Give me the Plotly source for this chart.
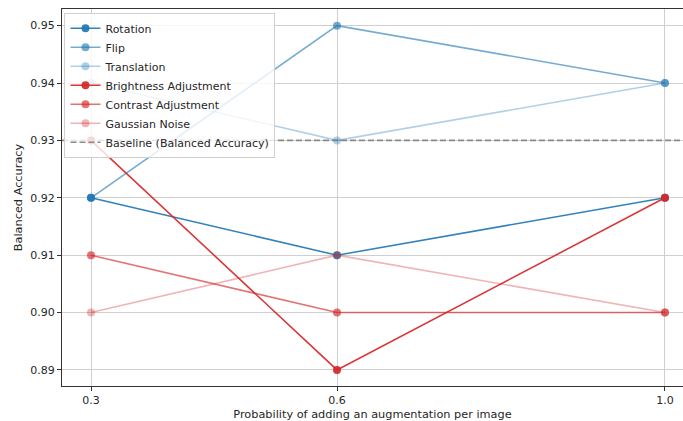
import plotly.graph_objects as go

# Augmentation probability (x) and balanced accuracy per augmentation type
probabilities = [0.3, 0.6, 1.0]
rotation = [0.92, 0.91, 0.92]
flip = [0.92, 0.95, 0.94]
translation = [0.94, 0.93, 0.94]
brightness = [0.93, 0.89, 0.92]
contrast = [0.91, 0.90, 0.90]
gaussian_noise = [0.90, 0.91, 0.90]
baseline = 0.93

x_ticks = [0.3, 0.6, 1.0]
x_tick_text = ["0.3", "0.6", "1.0"]
y_ticks = [0.89, 0.90, 0.91, 0.92, 0.93, 0.94, 0.95]
y_tick_text = ["0.89", "0.90", "0.91", "0.92", "0.93", "0.94", "0.95"]

x_range = [0.2646, 1.022]
y_range = [0.8872, 0.9529]

series = [
    ("Rotation", rotation, "rgba(31,119,180,0.92)"),
    ("Flip", flip, "rgba(31,119,180,0.62)"),
    ("Translation", translation, "rgba(31,119,180,0.35)"),
    ("Brightness Adjustment", brightness, "rgba(214,39,40,0.92)"),
    ("Contrast Adjustment", contrast, "rgba(214,39,40,0.65)"),
    ("Gaussian Noise", gaussian_noise, "rgba(214,39,40,0.35)"),
]

fig = go.Figure()
for name, values, color in series:
    fig.add_trace(go.Scatter(
        x=probabilities, y=values, name=name, mode="lines+markers",
        line=dict(color=color, width=1.6),
        marker=dict(color=color, size=8),
    ))

# Baseline drawn across the full x extent
fig.add_trace(go.Scatter(
    x=x_range, y=[baseline, baseline], name="Baseline (Balanced Accuracy)",
    mode="lines", line=dict(color="rgba(128,128,128,0.9)", width=1.6, dash="6px,3px"),
))

font_family = "DejaVu Sans"
fig.update_layout(
    width=683, height=421,
    margin=dict(l=62, r=0, t=9, b=35),
    paper_bgcolor="white", plot_bgcolor="white",
    font=dict(family=font_family, size=11, color="#262626"),
    showlegend=True,
    legend=dict(
        x=0.004, y=0.99, xanchor="left", yanchor="top",
        bgcolor="rgba(255,255,255,0.8)", bordercolor="#d0d0d0", borderwidth=1,
        font=dict(family=font_family, size=11, color="#262626"),
        tracegroupgap=0, itemwidth=30,
    ),
)
fig.update_xaxes(
    range=x_range, tickvals=x_ticks, ticktext=x_tick_text,
    showgrid=True, gridcolor="#cfcfcf", gridwidth=1,
    showline=True, linecolor="#333333", linewidth=1, mirror=True,
    ticks="outside", ticklen=4, tickcolor="#333333",
    zeroline=False,
    tickfont=dict(family=font_family, size=11),
    title=dict(text="Probability of adding an augmentation per image", standoff=3,
               font=dict(family=font_family, size=11.3)),
)
fig.update_yaxes(
    range=y_range, tickvals=y_ticks, ticktext=y_tick_text,
    showgrid=True, gridcolor="#cfcfcf", gridwidth=1,
    showline=True, linecolor="#333333", linewidth=1, mirror=False,
    ticks="outside", ticklen=4, tickcolor="#333333",
    zeroline=False,
    tickfont=dict(family=font_family, size=11),
    title=dict(text="Balanced Accuracy", standoff=5,
               font=dict(family=font_family, size=11.3)),
)

fig.write_html("out.html")
